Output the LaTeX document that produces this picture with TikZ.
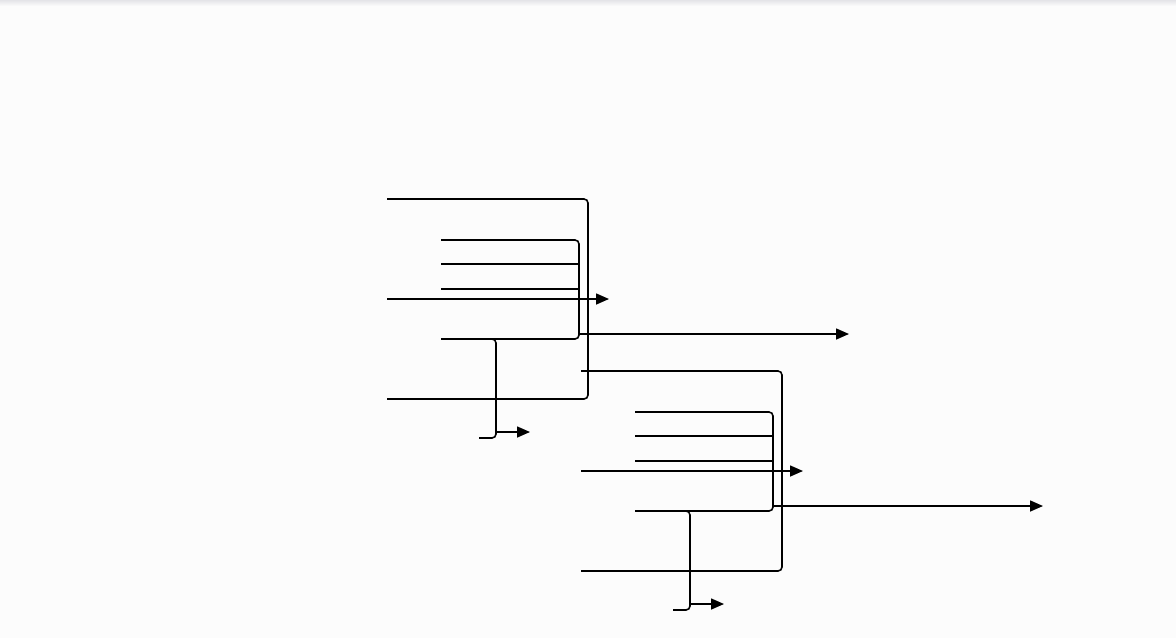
\documentclass[tikz,border=0pt]{standalone}
\usetikzlibrary{arrows.meta}
\definecolor{paper}{RGB}{252,252,252}
\definecolor{edgeshade}{RGB}{228,228,232}
\tikzset{
  wire/.style={line width=1.6pt, line cap=butt},
  bracketline/.style={wire, rounded corners=4pt},
  flow/.style={wire, -{Triangle[length=13pt,width=11pt]}},
}
\begin{document}
\begin{tikzpicture}[x=1pt,y=-1pt]
  % page
  \fill[paper] (0,0) rectangle (1176,638);
  \shade[top color=edgeshade, bottom color=paper] (0,0) rectangle (1176,6);
  \useasboundingbox (0,0) rectangle (1176,638);

  % one bracket stage, repeated with an offset
  \foreach \dx/\dy/\s in {0/0/a, 194/172/b} {
    \begin{scope}[shift={(\dx,\dy)}]
      \coordinate (\s-ot) at (387,199);
      \coordinate (\s-ob) at (387,399);
      \coordinate (\s-it) at (441,240);
      \coordinate (\s-ib) at (441,339);
      % outer bracket
      \draw[bracketline] (\s-ot) -- (588,199) -- (588,399) -- (\s-ob);
      % inner bracket with its two middle legs
      \draw[bracketline] (\s-it) -- (579,240) -- (579,339) -- (\s-ib);
      \draw[wire] (441,264) -- (579,264);
      \draw[wire] (441,289) -- (579,289);
      % straight-through arrow
      \coordinate (\s-in) at (387,299);
      \coordinate (\s-thru) at (609,299);
      \draw[flow] (\s-in) -- (\s-thru);
      % output of the inner bracket
      \coordinate (\s-src) at (579,334);
      \coordinate (\s-out) at (849,334);
      \draw[flow] (\s-src) -- (\s-out);
      % small bracket and its arrow
      \draw[bracketline] (479,339) -- (496,339) -- (496,438) -- (479,438);
      \coordinate (\s-sm) at (496,432);
      \coordinate (\s-smout) at (530,432);
      \draw[flow] (\s-sm) -- (\s-smout);
    \end{scope}
  }
\end{tikzpicture}
\end{document}
